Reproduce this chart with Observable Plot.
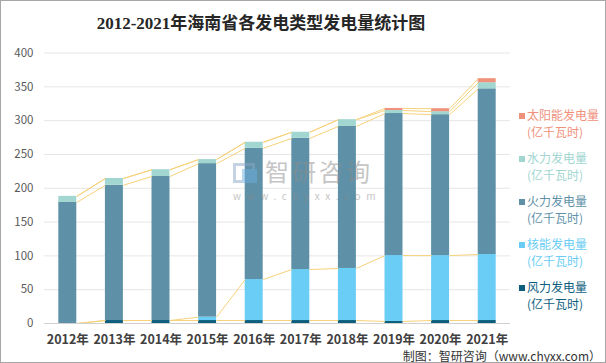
<!DOCTYPE html>
<html>
<head>
<meta charset="utf-8">
<script src="https://cdn.jsdelivr.net/npm/d3@7"></script>
<script src="https://cdn.jsdelivr.net/npm/@observablehq/plot@0.6"></script>
<style>
  html, body { margin: 0; padding: 0; background: #fff; }
  #wrap { position: relative; width: 606px; height: 363px; overflow: hidden; font-family: "Noto Sans CJK SC", "Noto Sans", sans-serif; }
  #frame { position: absolute; left: 0; top: 0; width: 604px; height: 361px; border: 1px solid #a6a6a6; pointer-events: none; }
  #title { position: absolute; left: 0; width: 522px; top: 9px; text-align: center; font-family: "Liberation Serif", "Noto Sans CJK SC", serif; font-weight: bold; font-size: 17px; color: #262626; }
  #legend { position: absolute; left: 519px; top: 107px; font-size: 12px; line-height: 16.5px; }
  .item { position: relative; padding-left: 8px; height: 43px; }
  .sw { position: absolute; left: 0; top: 6px; width: 6px; height: 6px; }
  #caption { position: absolute; right: 5px; top: 350px; font-size: 12px; line-height: 12px; color: #333; white-space: nowrap; }
  #wm { position: absolute; left: 233px; top: 160px; opacity: 0.5; pointer-events: none; }
  #wm .cn { position: absolute; left: 32px; top: -1px; font-size: 24px; line-height: 24px; color: #8c8c8c; white-space: nowrap; letter-spacing: 3px; }
  #wm .url { position: absolute; left: 0px; top: 31px; font-size: 10px; line-height: 10px; color: #8c8c8c; letter-spacing: 5.6px; white-space: nowrap; }
  #wm .lg1 { position: absolute; left: 0; top: 3px; width: 22px; height: 20px; border: 3px solid #8aa6c8; box-sizing: border-box; }
  #wm .lg2 { position: absolute; left: 9px; top: 9px; width: 15px; height: 14px; background: #6db0e0; }
</style>
</head>
<body>
<div id="wrap">
  <div id="chart"></div>
  <div id="wm"><div class="lg1"></div><div class="lg2"></div><div class="cn">智研咨询</div><div class="url">www.chyxx.com</div></div>
  <div id="title"></div>
  <div id="legend"></div>
  <div id="caption"></div>
  <div id="frame"></div>
</div>
<script>
const titleText = "2012-2021年海南省各发电类型发电量统计图";
const captionText = "制图：智研咨询（www.chyxx.com）";
const years = [2012, 2013, 2014, 2015, 2016, 2017, 2018, 2019, 2020, 2021];
const wind    = [0, 4.4, 4.4, 4.4, 4.4, 4.4, 4.4, 3.0, 4.4, 4.4];
const nuclear = [0, 0, 0, 5, 60.6, 75.4, 77, 97.5, 96, 97.6];
const thermal = [179, 200, 213, 227, 194, 194, 210, 210, 208.4, 245];
const hydro   = [9, 10, 10, 6, 9, 9, 10, 4.5, 4.4, 9];
const solar   = [0, 0, 0, 0, 0, 0, 0, 3, 4.4, 6];
const seriesNames = ["风力发电量", "核能发电量", "火力发电量", "水力发电量", "太阳能发电量"];
const unitText = "(亿千瓦时)";
const colors = ["#0e5e7e", "#6acdf5", "#5e91a8", "#a1d6d1", "#ef917b"];
const yTicks = [0, 50, 100, 150, 200, 250, 300, 350, 400];

const seriesValues = [wind, nuclear, thermal, hydro, solar];

// stacked table
const rows = [];
years.forEach((yr, i) => {
  let base = 0;
  seriesValues.forEach((vals, s) => {
    const v = vals[i];
    rows.push({year: yr, idx: i, series: seriesNames[s], s, y1: base, y2: base + v});
    base += v;
  });
});
// series lines linking segment tops of adjacent bars
const hw = 0.193;
const links = [];
seriesValues.forEach((vals, s) => {
  for (let i = 0; i < years.length - 1; i++) {
    const a = rows.find(r => r.idx === i && r.s === s);
    const b = rows.find(r => r.idx === i + 1 && r.s === s);
    links.push({x1: years[i] + hw, x2: years[i + 1] - hw, y1: a.y2, y2: b.y2});
  }
});

const chart = Plot.plot({
  width: 606,
  height: 363,
  marginLeft: 44,
  marginRight: 96,
  marginTop: 52.5,
  marginBottom: 40,
  style: {fontFamily: "'Noto Sans CJK SC', sans-serif", background: "transparent"},
  x: {type: "linear", domain: [2011.5, 2021.5]},
  y: {domain: [0, 400]},
  color: {domain: seriesNames, range: colors},
  marks: [
    Plot.gridY(yTicks, {stroke: "#e6e6e6", strokeOpacity: 1}),
    Plot.axisY(yTicks, {tickSize: 0, tickPadding: 11, fontSize: 11.5, fill: "#595959", label: null}),
    Plot.axisX(years, {tickSize: 0, tickPadding: 12, fontSize: 12.5, fontWeight: "bold", fill: "#404040", tickFormat: d => d + "年", label: null}),
    Plot.rect(rows.filter(r => r.y2 > r.y1), {
      x1: d => d.year - hw, x2: d => d.year + hw, y1: "y1", y2: "y2", fill: "series"
    }),
    Plot.link(links, {x1: "x1", x2: "x2", y1: "y1", y2: "y2", stroke: "#f7d27a", strokeWidth: 1}),
    Plot.ruleY([0], {stroke: "#d0d0d0", strokeWidth: 1.2})
  ]
});
document.getElementById("chart").appendChild(chart);

document.getElementById("title").textContent = titleText;
document.getElementById("caption").textContent = captionText;
const legend = document.getElementById("legend");
for (let s = seriesNames.length - 1; s >= 0; s--) {
  const it = document.createElement("div");
  it.className = "item";
  it.style.color = colors[s];
  const sw = document.createElement("div");
  sw.className = "sw";
  sw.style.background = colors[s];
  it.appendChild(sw);
  const t1 = document.createElement("div"); t1.textContent = seriesNames[s];
  const t2 = document.createElement("div"); t2.textContent = unitText;
  it.appendChild(t1); it.appendChild(t2);
  legend.appendChild(it);
}
</script>
</body>
</html>
